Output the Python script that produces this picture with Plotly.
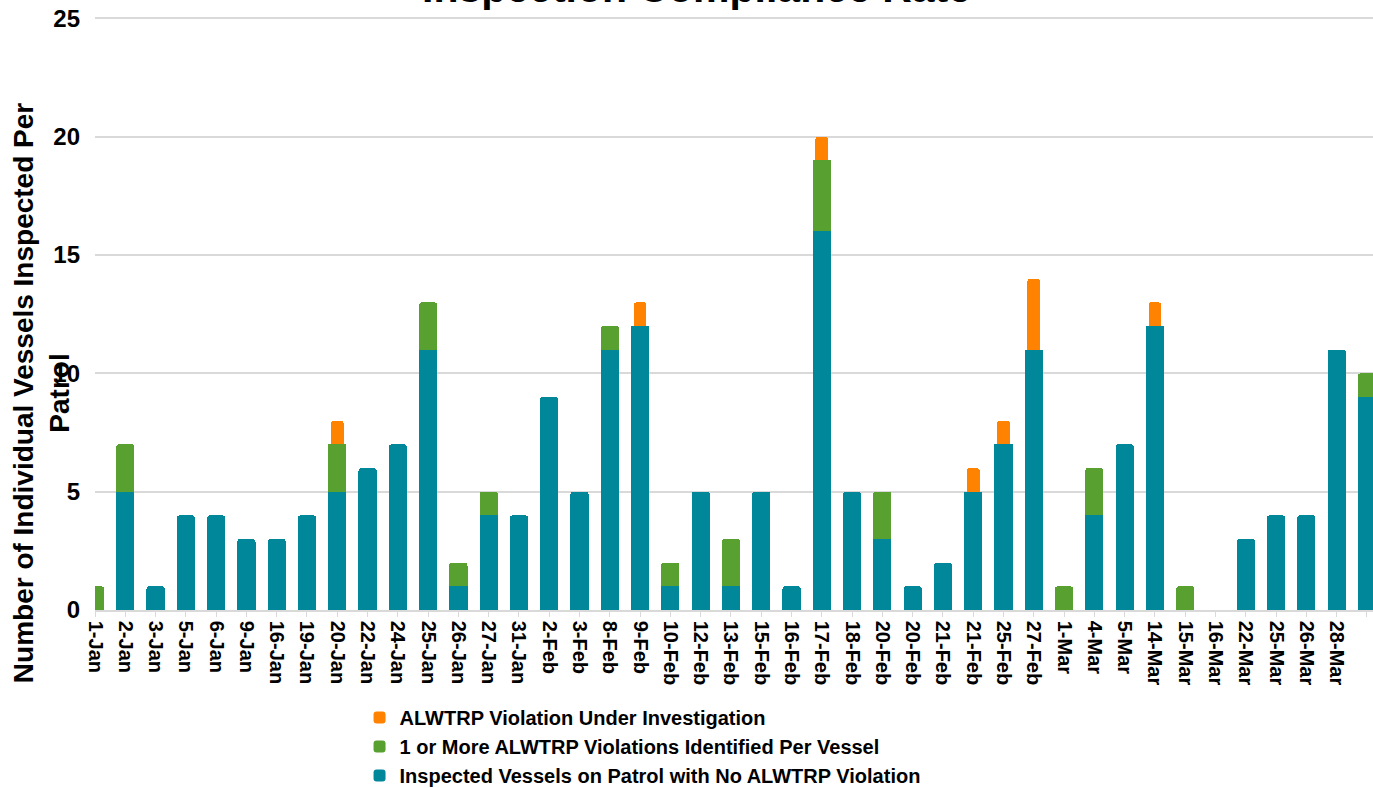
import plotly.graph_objects as go

categories = ["1-Jan", "2-Jan", "3-Jan", "5-Jan", "6-Jan", "9-Jan", "16-Jan", "19-Jan", "20-Jan",
              "22-Jan", "24-Jan", "25-Jan", "26-Jan", "27-Jan", "31-Jan", "2-Feb", "3-Feb", "8-Feb",
              "9-Feb", "10-Feb", "12-Feb", "13-Feb", "15-Feb", "16-Feb", "17-Feb", "18-Feb", "20-Feb",
              "20-Feb", "21-Feb", "21-Feb", "25-Feb", "27-Feb", "1-Mar", "4-Mar", "5-Mar", "14-Mar",
              "15-Mar", "16-Mar", "22-Mar", "25-Mar", "26-Mar", "28-Mar", "31-Mar"]

no_violation = [0, 5, 1, 4, 4, 3, 3, 4, 5,
                6, 7, 11, 1, 4, 4, 9, 5, 11,
                12, 1, 5, 1, 5, 1, 16, 5, 3,
                1, 2, 5, 7, 11, 0, 4, 7, 12,
                0, 0, 3, 4, 4, 11, 9]

violations = [1, 2, 0, 0, 0, 0, 0, 0, 2,
              0, 0, 2, 1, 1, 0, 0, 0, 1,
              0, 1, 0, 2, 0, 0, 3, 0, 2,
              0, 0, 0, 0, 0, 1, 2, 0, 0,
              1, 0, 0, 0, 0, 0, 1]

investigation = [0, 0, 0, 0, 0, 0, 0, 0, 1,
                 0, 0, 0, 0, 0, 0, 0, 0, 0,
                 1, 0, 0, 0, 0, 0, 1, 0, 0,
                 0, 0, 1, 1, 3, 0, 0, 0, 1,
                 0, 0, 0, 0, 0, 0, 0]

series_names = ["Inspected Vessels on Patrol with No ALWTRP Violation",
                "1 or More ALWTRP Violations Identified Per Vessel",
                "ALWTRP Violation Under Investigation"]
colors = ["#00879A", "#58A030", "#FF8200"]

y_ticks = [0, 5, 10, 15, 20, 25]

FONT = "Liberation Sans, Arial, sans-serif"
idx = list(range(len(categories)))

fig = go.Figure()
for vals, name, col, w in zip([no_violation, violations, investigation], series_names, colors,
                              [0.6, 0.6, 0.42]):
    fig.add_trace(go.Bar(x=idx, y=vals, name=name, marker=dict(color=col, line=dict(width=0)),
                         width=w))

fig.update_layout(
    barmode="stack",
    barcornerradius=3,
    width=1373, height=788,
    margin=dict(l=95, r=0, t=16, b=178, autoexpand=False),
    paper_bgcolor="white", plot_bgcolor="white",
    font=dict(family=FONT, color="black"),
    showlegend=True,
    legend=dict(orientation="v", traceorder="reversed", x=0.207, xanchor="left",
                y=-0.148, yanchor="top", font=dict(size=20, family=FONT, weight="bold"),
                bgcolor="rgba(0,0,0,0)", tracegroupgap=0, itemwidth=30),
    xaxis=dict(range=[0, 42.2], tickmode="array", tickvals=idx, ticktext=categories,
               tickangle=90, tickfont=dict(size=20, family=FONT, weight="bold"),
               showgrid=False, showline=True, linecolor="#D9D9D9", linewidth=1.5,
               ticks="outside", ticklen=5, tickcolor="#D9D9D9", zeroline=False,
               automargin=False),
    yaxis=dict(range=[0, 25.1], tickmode="array", tickvals=y_ticks,
               tickfont=dict(size=24, family=FONT, weight="bold"),
               showgrid=True, gridcolor="#D9D9D9", gridwidth=1.5, zeroline=False,
               showline=False, ticks="", ticklabelstandoff=14, automargin=False),
    annotations=[
        dict(text="Inspection Compliance Rate", xref="paper", yref="paper", x=0.471, y=1,
             xanchor="center", yanchor="bottom", yshift=3, showarrow=False,
             font=dict(size=41, family=FONT, weight="bold", color="black")),
        dict(text="Number of Individual Vessels Inspected Per<br>Patrol", xref="paper", yref="paper",
             x=0, xshift=-54, y=0.365, xanchor="center", yanchor="middle", textangle=-90,
             showarrow=False, font=dict(size=28, family=FONT, weight="bold", color="black")),
    ],
)

fig.write_html("out.html", config={"displayModeBar": False},
               post_script="document.body.style.margin='0';document.body.style.overflow='hidden';")
